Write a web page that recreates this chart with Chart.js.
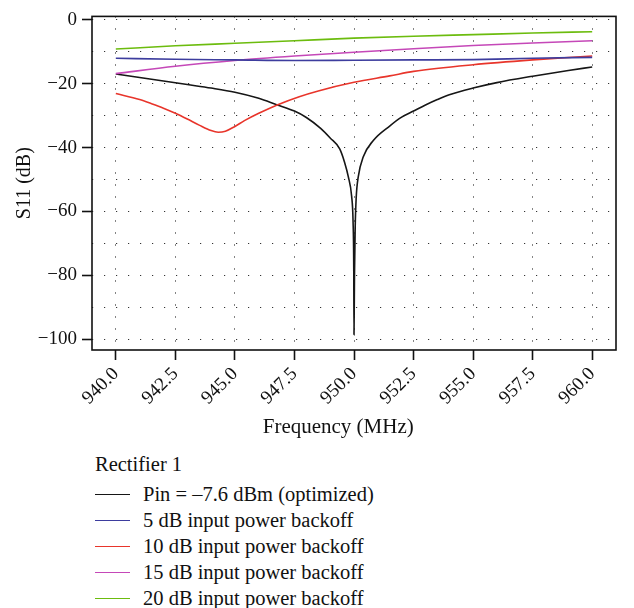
<!DOCTYPE html>
<html>
<head>
<meta charset="utf-8">
<script src="https://cdn.jsdelivr.net/npm/chart.js@4"></script>
<style>
  body { margin: 0; background: #fff; }
  #wrap { position: relative; width: 634px; height: 608px; }
  #box { position: absolute; left: 0; top: 0; width: 634px; height: 445px; }
  #legend { position: absolute; left: 95px; top: 453px; width: 500px; font-family: 'Liberation Serif', serif; font-size: 20.5px; color: #111; }
  .row { display: flex; align-items: center; height: 26px; white-space: nowrap; }
  .swatch { flex: 0 0 35px; height: 0; border-top: 1.5px solid; margin-right: 13px; }
</style>
</head>
<body>
<div id="wrap">
  <div id="box"><canvas id="chart"></canvas></div>
  <div id="legend"></div>
</div>
<script>
// ---- data ----
const seriesNames = ['Pin = \u20137.6 dBm (optimized)', '5 dB input power backoff', '10 dB input power backoff', '15 dB input power backoff', '20 dB input power backoff'];
const seriesColors = ['#161616', '#3d3d9e', '#e8352b', '#c548b8', '#6cbc0e'];

// black curve, dense round the notch at 950 MHz
const freqOpt = [940, 941, 942, 943, 944, 945, 946, 946.75, 947.5, 948, 948.6, 949, 949.4, 949.6, 949.76, 949.9, 949.96, 949.99, 950,
                 950.02, 950.05, 950.09, 950.18, 950.39, 950.81, 951.51, 952, 952.5, 953, 953.5, 954, 955, 956, 957.5, 959, 960];
const s11Opt = [-17.0, -18.1, -19.2, -20.3, -21.4, -22.7, -24.6, -26.6, -28.6, -30.6, -34.0, -37.0, -40.4, -44.5, -49.1, -55.2, -63, -78, -98.5,
                -80, -65, -56, -49.1, -42.9, -37.8, -33.2, -30.5, -28.6, -26.7, -25.0, -23.5, -21.4, -19.7, -17.7, -15.9, -14.8];

const freqBackoff10 = [940, 941, 941.5, 942, 942.5, 943, 943.5, 944, 944.3, 944.6, 945, 945.4, 946, 946.8, 947.7, 948.5, 950, 951.5, 952.5, 955, 957.5, 960];
const s11Backoff10 = [-23.1, -25.0, -26.3, -27.7, -29.3, -31.1, -33.0, -34.7, -35.2, -34.9, -33.4, -31.6, -29.3, -26.6, -24.1, -22.3, -19.6, -17.6, -16.2, -14.1, -12.6, -11.4];

const freqCoarse = [940, 942.5, 945, 947.5, 950, 952.5, 955, 957.5, 960];
const s11Backoff5 = [-12.1, -12.4, -12.6, -12.8, -12.7, -12.6, -12.5, -12.1, -11.8];
const s11Backoff15 = [-16.9, -14.6, -12.8, -11.4, -10.2, -9.1, -8.1, -7.3, -6.6];
const s11Backoff20 = [-9.2, -8.2, -7.4, -6.6, -5.8, -5.2, -4.7, -4.2, -3.8];

const xTicks = [940, 942.5, 945, 947.5, 950, 952.5, 955, 957.5, 960];
const yGrid = [-100, -90, -80, -70, -60, -50, -40, -30, -20, -10, 0];

const seriesFreq = [freqOpt, freqCoarse, freqBackoff10, freqCoarse, freqCoarse];
const seriesS11 = [s11Opt, s11Backoff5, s11Backoff10, s11Backoff15, s11Backoff20];

const serif = 'Liberation Serif';

// draw order: black on top like the reference
const order = [1, 3, 4, 2, 0];
const datasets = order.map(i => ({
  label: seriesNames[i],
  data: seriesFreq[i].map((f, k) => ({ x: f, y: seriesS11[i][k] })),
  borderColor: seriesColors[i],
  borderWidth: 1.6,
  pointRadius: 0,
  showLine: true,
  cubicInterpolationMode: 'monotone',
  fill: false
}));

// full box round the plot
const frame = {
  id: 'frame',
  afterDatasetsDraw(chart) {
    const { ctx, chartArea: a } = chart;
    ctx.save();
    ctx.strokeStyle = '#111';
    ctx.lineWidth = 1.6;
    ctx.strokeRect(a.left, a.top, a.right - a.left, a.bottom - a.top);
    ctx.restore();
  }
};

const minus = v => v === 0 ? '0' : (v < 0 ? '\u2212' + Math.abs(v) : String(v));

new Chart(document.getElementById('chart'), {
  type: 'scatter',
  data: { datasets },
  plugins: [frame],
  options: {
    responsive: true,
    maintainAspectRatio: false,
    animation: false,
    layout: { padding: { top: 10, right: 18, left: 0, bottom: 0 } },
    plugins: { legend: { display: false }, tooltip: { enabled: false } },
    scales: {
      x: {
        type: 'linear',
        min: 939,
        max: 961,
        afterBuildTicks: s => { s.ticks = xTicks.map(v => ({ value: v })); },
        afterFit: s => { s.height = 95; },
        ticks: {
          autoSkip: false,
          maxRotation: 45,
          minRotation: 45,
          padding: 3,
          color: '#111',
          font: { family: serif, size: 19 },
          callback: v => Number(v).toFixed(1)
        },
        grid: { color: '#333', lineWidth: 1, tickLength: 10, tickColor: '#111', tickWidth: 1.6, tickBorderDash: [] },
        border: { display: false, dash: [1.2, 10.8] },
        // trailing spaces nudge the centred title left, as in the reference
        title: { display: true, text: 'Frequency (MHz)\u00a0\u00a0\u00a0\u00a0\u00a0\u00a0', color: '#111', font: { family: serif, size: 21 }, padding: { top: 4, bottom: 5 } }
      },
      y: {
        type: 'linear',
        min: -103.3,
        max: 1,
        afterBuildTicks: s => { s.ticks = yGrid.map(v => ({ value: v })); },
        afterFit: s => { s.width = 92; },
        ticks: {
          autoSkip: false,
          padding: 5,
          color: '#111',
          font: { family: serif, size: 19 },
          callback: v => (v % 20 === 0 ? minus(v) : '')
        },
        grid: {
          color: '#333',
          lineWidth: 1,
          tickLength: 10,
          tickWidth: 1.6,
          tickBorderDash: [],
          tickColor: c => (c.tick && c.tick.value % 20 === 0 ? '#111' : 'rgba(0,0,0,0)')
        },
        border: { display: false, dash: [1.2, 10.8] },
        title: { display: true, text: 'S11 (dB)', color: '#111', font: { family: serif, size: 20 }, padding: { top: 13, bottom: 0 } }
      }
    }
  }
});

// legend below the chart, one entry per line
const legend = document.getElementById('legend');
const head = document.createElement('div');
head.textContent = 'Rectifier 1';
head.style.height = '28px';
legend.appendChild(head);
seriesNames.forEach((name, i) => {
  const row = document.createElement('div');
  row.className = 'row';
  const sw = document.createElement('span');
  sw.className = 'swatch';
  sw.style.borderColor = seriesColors[i];
  const txt = document.createElement('span');
  txt.textContent = name;
  row.appendChild(sw);
  row.appendChild(txt);
  legend.appendChild(row);
});
</script>
</body>
</html>
